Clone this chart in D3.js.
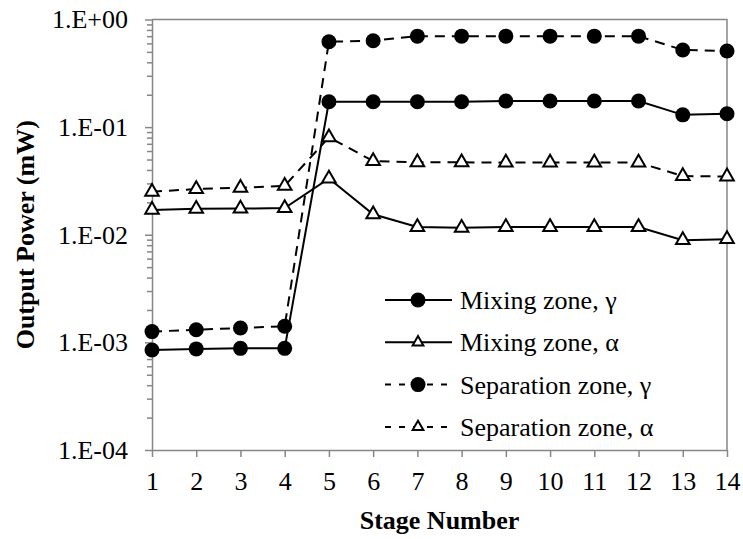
<!DOCTYPE html>
<html>
<head>
<meta charset="utf-8">
<script src="https://cdn.jsdelivr.net/npm/d3@7"></script>
<style>
  body { margin: 0; background: #fff; }
  svg { display: block; }
</style>
</head>
<body>
<svg id="chart" width="743" height="539"></svg>
<script>
// stage numbers on the x axis
const stages = [1, 2, 3, 4, 5, 6, 7, 8, 9, 10, 11, 12, 13, 14];

// output power (mW)
const mixGamma = [8.5e-4, 8.7e-4, 8.8e-4, 8.8e-4, 0.172, 0.172, 0.172, 0.172, 0.175, 0.175, 0.175, 0.175, 0.130, 0.133];
const mixAlpha = [0.0170, 0.0174, 0.0175, 0.0177, 0.0333, 0.0155, 0.0118, 0.0116, 0.0118, 0.0118, 0.0118, 0.0118, 0.0089, 0.0091];
const sepGamma = [1.26e-3, 1.31e-3, 1.36e-3, 1.41e-3, 0.622, 0.635, 0.700, 0.700, 0.700, 0.700, 0.700, 0.700, 0.521, 0.510];
const sepAlpha = [0.0251, 0.0266, 0.0273, 0.0285, 0.0804, 0.0484, 0.0471, 0.0471, 0.0468, 0.0468, 0.0468, 0.0468, 0.0351, 0.0348];

const seriesNames = ["Mixing zone, \u03b3", "Mixing zone, \u03b1", "Separation zone, \u03b3", "Separation zone, \u03b1"];

// y ticks
const yMajorTicks = [1e-4, 1e-3, 1e-2, 1e-1, 1];

const FONT = "'Liberation Serif', 'Times New Roman', 'DejaVu Serif', serif";
const FS = "26px";

const svg = d3.select("#chart").style("font-family", FONT);
const width = 743, height = 539;
const margin = { top: 19.5, right: 16, bottom: 89, left: 152 };
const innerW = width - margin.left - margin.right;
const innerH = height - margin.top - margin.bottom;
const axisColor = "#868686";

const x = d3.scaleLinear().domain([1, 14]).range([0, innerW]);
const y = d3.scaleLog().domain([1e-4, 1]).range([innerH, 0]);

const g = svg.append("g").attr("transform", `translate(${margin.left},${margin.top})`);

// plot border (top / right)
g.append("path")
  .attr("d", `M0,0H${innerW}V${innerH}`)
  .attr("fill", "none")
  .attr("stroke", axisColor)
  .attr("stroke-width", 1.5);

// minor y ticks
const yMinor = [];
for (let e = -4; e < 0; e++) {
  for (let m = 2; m <= 9; m++) yMinor.push(m * Math.pow(10, e));
}
g.append("g")
  .call(d3.axisLeft(y).tickValues(yMinor).tickSize(5).tickFormat(""))
  .call(a => a.select(".domain").remove())
  .call(a => a.selectAll("line").attr("stroke", axisColor).attr("stroke-width", 1.5));

// major y axis
const fmtE = d => {
  const e = Math.round(Math.log10(d));
  return "1.E" + (e >= 0 ? "+" : "-") + String(Math.abs(e)).padStart(2, "0");
};
const yAxis = g.append("g")
  .call(d3.axisLeft(y).tickValues(yMajorTicks).tickSize(7).tickSizeOuter(0).tickPadding(17).tickFormat(fmtE))
  .attr("font-family", FONT);
yAxis.select(".domain").attr("stroke", axisColor).attr("stroke-width", 1.5);
yAxis.selectAll("line").attr("stroke", axisColor).attr("stroke-width", 1.5);
yAxis.selectAll("text").style("font-size", FS).style("font-family", FONT);

// x axis
const xAxis = g.append("g")
  .attr("transform", `translate(0,${innerH})`)
  .call(d3.axisBottom(x).tickValues(stages).tickSize(7).tickSizeOuter(0).tickPadding(15).tickFormat(d3.format("d")))
  .attr("font-family", FONT);
xAxis.select(".domain").attr("stroke", axisColor).attr("stroke-width", 1.5);
xAxis.selectAll("line").attr("stroke", axisColor).attr("stroke-width", 1.5);
xAxis.selectAll("text").style("font-size", FS).style("font-family", FONT);

// axis titles
svg.append("text")
  .attr("x", margin.left + innerW / 2)
  .attr("y", 529)
  .attr("text-anchor", "middle")
  .style("font-family", FONT)
  .style("font-size", FS)
  .style("font-weight", "bold")
  .text("Stage Number");

svg.append("text")
  .attr("transform", `translate(34,${margin.top + innerH / 2}) rotate(-90)`)
  .attr("text-anchor", "middle")
  .style("font-family", FONT)
  .style("font-size", FS)
  .style("font-weight", "bold")
  .text("Output Power (mW)");

// series
const series = [
  { name: seriesNames[0], values: mixGamma, dash: null, marker: "circle" },
  { name: seriesNames[1], values: mixAlpha, dash: null, marker: "triangle" },
  { name: seriesNames[2], values: sepGamma, dash: "10,7", marker: "circle" },
  { name: seriesNames[3], values: sepAlpha, dash: "10,7", marker: "triangle" }
];

const line = d3.line().x((d, i) => x(stages[i])).y(d => y(d));

function drawMarker(sel, type, small) {
  if (type === "circle") {
    sel.append("circle").attr("r", 7.5).attr("fill", "#000");
  } else {
    sel.append("path")
      .attr("d", d3.symbol().type(d3.symbolTriangle).size(small ? 50 : 80)())
      .attr("fill", "#fff")
      .attr("stroke", "#000")
      .attr("stroke-width", 2);
  }
}

series.forEach(s => {
  g.append("path")
    .datum(s.values)
    .attr("d", line)
    .attr("fill", "none")
    .attr("stroke", "#000")
    .attr("stroke-width", 2)
    .attr("stroke-dasharray", s.dash);
});

series.forEach(s => {
  g.append("g").selectAll("g")
    .data(s.values)
    .join("g")
    .attr("transform", (d, i) => `translate(${x(stages[i])},${y(d)})`)
    .each(function () { drawMarker(d3.select(this), s.marker, false); });
});

// legend
const legend = svg.append("g").attr("transform", "translate(385,300)");
series.forEach((s, i) => {
  const row = legend.append("g").attr("transform", `translate(0,${i * 42.3})`);
  row.append("line")
    .attr("x1", 0).attr("x2", 67)
    .attr("stroke", "#000")
    .attr("stroke-width", 2)
    .attr("stroke-dasharray", s.dash ? "6,8" : null);
  const m = row.append("g").attr("transform", "translate(33,0)");
  drawMarker(m, s.marker, true);
  row.append("text")
    .attr("x", 75)
    .attr("dy", "0.35em")
    .style("font-family", FONT)
    .style("font-size", FS)
    .text(s.name);
});
</script>
</body>
</html>
